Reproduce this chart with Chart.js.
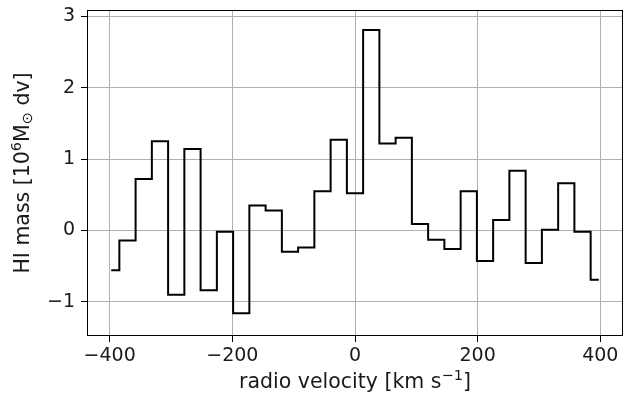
<!DOCTYPE html>
<html>
<head>
<meta charset="utf-8">
<script src="https://cdn.jsdelivr.net/npm/chart.js@4.4.0/dist/chart.umd.min.js"></script>
<style>
  html, body { margin: 0; padding: 0; background: #fff; }
  canvas { display: block; }
</style>
</head>
<body>
<canvas id="spectrum" width="644" height="396"></canvas>
<script>
// channel centres (km/s) and HI mass per channel (10^6 Msun dv)
const velocities = [-397.5, -371, -344.5, -318, -291.5, -265, -238.5, -212, -185.5, -159,
  -132.5, -106, -79.5, -53, -26.5, 0, 26.5, 53, 79.5, 106,
  132.5, 159, 185.5, 212, 238.5, 265, 291.5, 318, 344.5, 371, 397.5];
const hiMass = [-0.56, -0.14, 0.72, 1.25, -0.90, 1.14, -0.84, -0.02, -1.16, 0.35,
  0.28, -0.30, -0.24, 0.55, 1.27, 0.52, 2.81, 1.22, 1.30, 0.09,
  -0.13, -0.26, 0.55, -0.43, 0.145, 0.835, -0.455, 0.01, 0.66, -0.02, -0.69];
const xTicks = [-400, -200, 0, 200, 400];
const yTicks = [-1, 0, 1, 2, 3];

const FONT = "'DejaVu Sans', sans-serif";
const TEXT = '#1a1a1a';

// draw a run of text pieces (some raised/lowered) centred on x,y
function drawRich(ctx, parts, x, y) {
  let total = 0;
  for (const p of parts) {
    ctx.font = p.size + 'px ' + FONT;
    p.w = ctx.measureText(p.t).width;
    total += p.w;
  }
  let cx = x - total / 2;
  ctx.textBaseline = 'middle';
  ctx.textAlign = 'left';
  for (const p of parts) {
    ctx.font = p.size + 'px ' + FONT;
    ctx.fillText(p.t, cx, y + (p.dy || 0));
    cx += p.w;
  }
}

const decorations = {
  id: 'decorations',
  afterDatasetsDraw(chart) {
    const { ctx, chartArea: a } = chart;
    ctx.save();
    ctx.strokeStyle = '#000';
    ctx.lineWidth = 1;
    ctx.strokeRect(Math.round(a.left) + 0.5, Math.round(a.top) + 0.5,
      Math.round(a.right - a.left) - 1, Math.round(a.bottom - a.top) - 1);
    ctx.restore();
  },
  afterDraw(chart) {
    const { ctx, chartArea: a } = chart;
    ctx.save();
    ctx.fillStyle = TEXT;
    drawRich(ctx, [
      { t: 'radio velocity [km s', size: 20.5 },
      { t: '\u22121', size: 14.5, dy: -7 },
      { t: ']', size: 20.5 }
    ], (a.left + a.right) / 2, 383);

    ctx.translate(24, (a.top + a.bottom) / 2);
    ctx.rotate(-Math.PI / 2);
    drawRich(ctx, [
      { t: 'HI mass [10', size: 20.5 },
      { t: '6', size: 14.5, dy: -7 },
      { t: 'M', size: 20.5 },
      { t: '\u2299', size: 14.5, dy: 4 },
      { t: ' dv]', size: 20.5 }
    ], 0, 0);
    ctx.restore();
  }
};

// keep the plot frame fixed: ignore the overhang of the end tick labels
const noLabelOverhang = s => {
  s.paddingTop = 0;
  s.paddingBottom = 0;
  s.paddingLeft = 0;
  s.paddingRight = 0;
};

new Chart(document.getElementById('spectrum'), {
  type: 'line',
  data: {
    datasets: [{
      data: velocities.map((v, i) => ({ x: v, y: hiMass[i] })),
      stepped: 'middle',
      borderColor: '#000',
      borderWidth: 2,
      pointRadius: 0,
      fill: false
    }]
  },
  options: {
    responsive: false,
    animation: false,
    layout: { padding: { top: 10, right: 21, left: 0, bottom: 0 } },
    plugins: { legend: { display: false }, tooltip: { enabled: false } },
    scales: {
      x: {
        type: 'linear',
        min: -437,
        max: 437,
        afterBuildTicks: s => { s.ticks = xTicks.map(v => ({ value: v })); },
        afterFit: s => { s.height = 60; noLabelOverhang(s); },
        grid: { color: '#b0b0b0', lineWidth: 1, tickColor: '#000', tickLength: 6 },
        border: { display: false },
        ticks: { color: TEXT, font: { family: FONT, size: 19 }, padding: 3, maxRotation: 0,
          callback: v => String(v).replace('-', '\u2212') }
      },
      y: {
        min: -1.48,
        max: 3.09,
        afterBuildTicks: s => { s.ticks = yTicks.map(v => ({ value: v })); },
        afterFit: s => { s.width = 87; noLabelOverhang(s); },
        grid: { color: '#b0b0b0', lineWidth: 1, tickColor: '#000', tickLength: 6 },
        border: { display: false },
        ticks: { color: TEXT, font: { family: FONT, size: 19 }, padding: 6,
          callback: v => String(v).replace('-', '\u2212') }
      }
    }
  },
  plugins: [decorations]
});
</script>
</body>
</html>
